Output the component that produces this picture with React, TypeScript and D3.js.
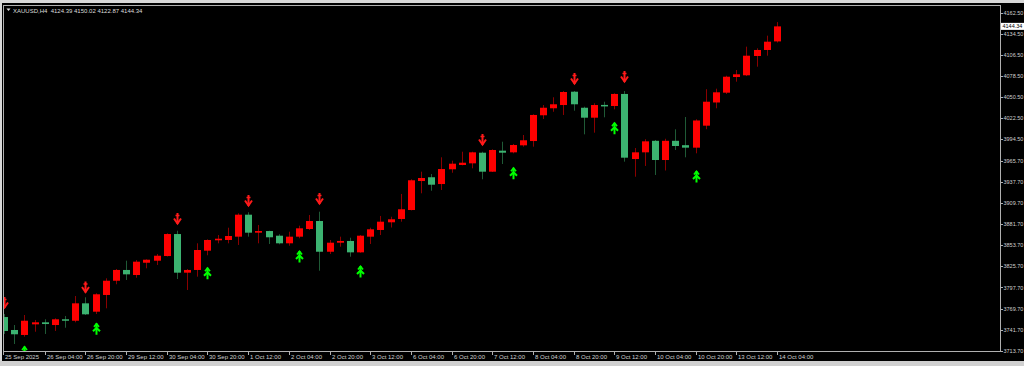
import React from "react";
import * as d3 from "d3";

const W = 1024;
const H = 366;

// OHLC data, XAUUSD H4, 25 Sep 2025 12:00 .. 14 Oct 2025 04:00
const opens = [3758.4,3741.2,3734.6,3748.7,3751.4,3747.8,3755.4,3753.5,3776.6,3765.5,3787.7,3806.6,3820.9,3814.2,3830.5,3833.2,3839.4,3868.6,3817.3,3820.9,3846.5,3860.3,3860.7,3865.1,3894.3,3870.4,3872.6,3866.4,3856.3,3865.1,3875.3,3885.9,3845.1,3857.1,3859.4,3844.3,3865.1,3874.0,3884.2,3888.6,3900.5,3939.0,3944.0,3935.0,3954.6,3960.3,3962.5,3976.6,3951.4,3979.3,3977.1,3986.4,3992.1,4026.3,4035.6,4039.9,4057.6,4036.3,4023.1,4039.9,4038.6,4054.6,3968.2,3977.1,3992.4,3966.9,3992.4,3986.6,3983.3,4012.5,4043.3,4056.3,4077.1,4079.4,4105.0,4113.0,4124.39];
const highs = [3762.4,3747.8,3761.1,3754.5,3755.4,3756.7,3759.8,3786.3,3784.6,3789.9,3809.8,3822.2,3833.2,3834.1,3835.0,3842.1,3869.6,3873.0,3822.2,3856.3,3861.6,3867.3,3877.0,3896.1,3897.5,3880.6,3873.0,3868.3,3871.7,3879.7,3893.9,3898.3,3860.7,3865.1,3863.7,3867.3,3877.0,3892.6,3891.6,3921.8,3941.3,3951.4,3948.3,3970.5,3966.0,3977.9,3977.9,3977.9,3981.1,3991.2,3988.2,4000.1,4027.6,4039.9,4050.2,4058.5,4058.5,4037.7,4042.2,4044.3,4055.5,4058.5,3982.8,3994.5,3993.5,3995.1,4007.7,4024.0,4021.0,4060.9,4061.6,4078.8,4086.4,4117.4,4115.2,4132.0,4150.02];
const lows = [3735.9,3722.6,3732.3,3738.9,3735.9,3739.9,3744.2,3751.4,3761.1,3762.4,3770.0,3801.9,3807.6,3810.6,3823.1,3827.5,3838.8,3808.9,3794.3,3812.0,3840.4,3856.3,3856.3,3854.1,3865.1,3856.3,3855.4,3855.0,3853.1,3863.0,3874.0,3819.9,3842.1,3851.8,3838.5,3843.8,3855.4,3867.3,3877.3,3885.0,3900.0,3922.7,3926.1,3927.1,3950.0,3959.8,3955.9,3941.3,3951.0,3961.6,3975.8,3984.6,3984.6,4021.3,4031.0,4026.7,4032.4,4001.0,4003.2,4023.6,4034.2,3964.7,3944.7,3959.0,3947.0,3953.0,3980.2,3970.5,3975.8,4007.8,4035.6,4054.6,4070.9,4078.4,4090.8,4105.4,4122.87];
const closes = [3739.9,3735.5,3753.5,3751.4,3749.1,3755.4,3753.5,3776.6,3762.0,3788.6,3806.6,3820.9,3815.1,3831.9,3834.5,3839.8,3868.6,3817.3,3820.9,3847.4,3860.7,3862.4,3866.0,3894.3,3870.4,3872.6,3864.3,3856.3,3865.1,3876.2,3885.9,3845.1,3857.1,3859.4,3844.3,3866.4,3874.9,3885.0,3888.2,3901.5,3940.0,3943.0,3934.1,3954.9,3962.0,3963.3,3977.1,3951.4,3980.2,3976.6,3986.8,3993.1,4026.7,4036.3,4040.9,4057.2,4040.9,4023.1,4039.9,4038.2,4054.6,3970.0,3977.1,3991.7,3966.9,3992.4,3985.5,3983.3,4019.4,4044.3,4056.8,4077.5,4080.7,4105.4,4113.0,4124.0,4144.34];

// Fractal-style arrows: [bar index, price at arrow tip]
const downArrows = [[0,3769.1],[8,3789.6],[17,3880.6],[24,3904.5],[31,3907.2],[47,3985.5],[56,4066.5],[61,4069.2]];
const upArrows = [[2,3720.6],[9,3751.4],[20,3825.2],[29,3847.4],[35,3827.5],[50,3958.0],[60,4017.8],[68,3953.6]];

// Axis labels
const timeLabels = ["25 Sep 2025","26 Sep 04:00","26 Sep 20:00","29 Sep 12:00","30 Sep 04:00","30 Sep 20:00","1 Oct 12:00","2 Oct 04:00","2 Oct 20:00","3 Oct 12:00","6 Oct 04:00","6 Oct 20:00","7 Oct 12:00","8 Oct 04:00","8 Oct 20:00","9 Oct 12:00","10 Oct 04:00","10 Oct 20:00","13 Oct 12:00","14 Oct 04:00"];
const timeLabelBars = [0,4,8,12,16,20,24,28,32,36,40,44,48,52,56,60,64,68,72,76];
const priceTicks = [4162.5,4134.5,4106.5,4078.5,4050.5,4022.5,3994.5,3965.7,3937.7,3909.7,3881.7,3853.7,3825.7,3797.7,3769.7,3741.7,3713.7];

const symbolTitle = "XAUUSD,H4";

const FONT = "'Liberation Sans', Arial, sans-serif";

export default function App() {
  const plot = { left: 3, top: 5, right: 1000, bottom: 351 };
  const x = d3.scaleLinear().domain([0, 76]).range([4.1, 777.0]);
  const y = d3.scaleLinear().domain([3713.7, 4162.5]).range([350.7, 12.7]);

  const last = closes.length - 1;
  const lastClose = closes[last];

  const bullBody = "#ff0000";
  const bearBody = "#3cb371";
  const bullWick = "#8b0000";
  const bearWick = "#1f5a36";

  const candles = opens.map((o, i) => {
    const c = closes[i];
    const bull = c >= o;
    const cx = Math.round(x(i));
    const yTop = y(Math.max(o, c));
    const yBot = y(Math.min(o, c));
    let bh = yBot - yTop;
    let by = yTop;
    if (bh < 1.5) {
      by = (yTop + yBot) / 2 - 0.75;
      bh = 1.5;
    }
    return (
      <g key={i}>
        <line x1={cx + 0.5} x2={cx + 0.5} y1={y(highs[i])} y2={y(lows[i])} stroke={bull ? bullWick : bearWick} strokeWidth={1} />
        <rect x={cx - 3} y={by} width={7} height={bh} fill={bull ? bullBody : bearBody} />
      </g>
    );
  });

  const downArrowMarks = downArrows.map(([i, p], k) => {
    const cx = Math.round(x(i)) + 0.5;
    const ty = y(p);
    return (
      <g key={"d" + k} transform={`translate(${cx},${ty})`} stroke="#ff1a1a" fill="none" strokeWidth={1.6}>
        <line x1={0} x2={0} y1={-12} y2={-1} strokeWidth={2} />
        <line x1={-2} x2={2} y1={-9.5} y2={-9.5} />
        <polyline points="-3.5,-6.5 0,-1.5 3.5,-6.5" strokeWidth={2} />
      </g>
    );
  });

  const upArrowMarks = upArrows.map(([i, p], k) => {
    const cx = Math.round(x(i)) + 0.5;
    const ty = y(p);
    return (
      <g key={"u" + k} transform={`translate(${cx},${ty})`} stroke="#00ff00" fill="none" strokeWidth={1.6}>
        <line x1={0} x2={0} y1={1} y2={12.5} strokeWidth={2} />
        <polyline points="-2.5,4.5 0,1.5 2.5,4.5" strokeWidth={1.8} />
        <polyline points="-3.5,9 0,5.5 3.5,9" strokeWidth={2} />
      </g>
    );
  });

  return (
    <svg width={W} height={H} style={{ position: "absolute", left: 0, top: 0, display: "block", background: "#000" }}>
      <rect x={0} y={0} width={W} height={H} fill="#000" />
      {/* window chrome */}
      <rect x={0} y={0} width={W} height={3} fill="#d8d8d8" />
      <rect x={0} y={0} width={2} height={H} fill="#d8d8d8" />
      <rect x={0} y={361} width={W} height={5} fill="#d0d0d0" />

      <defs>
        <clipPath id="plotClip">
          <rect x={plot.left + 0.5} y={plot.top} width={plot.right - plot.left - 0.5} height={plot.bottom - plot.top} />
        </clipPath>
      </defs>

      <g clipPath="url(#plotClip)">
        {candles}
        {downArrowMarks}
        {upArrowMarks}
      </g>

      {/* frame */}
      <rect x={plot.left + 0.5} y={plot.top + 0.5} width={plot.right - plot.left} height={plot.bottom - plot.top} fill="none" stroke="#b0b0b0" strokeWidth={1} />

      {/* header */}
      <path d="M6.5,8.5 L10.5,8.5 L8.5,11 Z" fill="#e0e0e0" />
      <text x={13} y={12.5} fill="#dcdcdc" fontFamily={FONT} fontSize={6} style={{ whiteSpace: "pre" }}>
        {`${symbolTitle}  ${opens[last].toFixed(2)} ${highs[last].toFixed(2)} ${lows[last].toFixed(2)} ${closes[last].toFixed(2)}`}
      </text>

      {/* price axis */}
      {priceTicks.map((p, k) => (
        <g key={"p" + k}>
          <line x1={plot.right + 0.5} x2={plot.right + 3} y1={Math.round(y(p)) + 0.5} y2={Math.round(y(p)) + 0.5} stroke="#b0b0b0" />
          <text x={1003.5} y={y(p) + 2.1} fill="#d0d0d0" fontFamily={FONT} fontSize={5.5}>
            {p.toFixed(2)}
          </text>
        </g>
      ))}
      {/* current price box */}
      <rect x={1001} y={y(lastClose) - 3.5} width={23} height={7} fill="#ffffff" />
      <text x={1002.5} y={y(lastClose) + 2.1} fill="#000" fontFamily={FONT} fontSize={5.5}>
        {lastClose.toFixed(2)}
      </text>

      {/* time axis */}
      {timeLabels.map((t, k) => {
        const tx = k === 0 ? plot.left + 0.5 : Math.round(x(timeLabelBars[k])) + 0.5;
        return (
          <g key={"t" + k}>
            <line x1={tx} x2={tx} y1={plot.bottom} y2={plot.bottom + 4} stroke="#b0b0b0" />
            <text x={tx + 1.5} y={359} fill="#d0d0d0" fontFamily={FONT} fontSize={6}>
              {t}
            </text>
          </g>
        );
      })}
    </svg>
  );
}
